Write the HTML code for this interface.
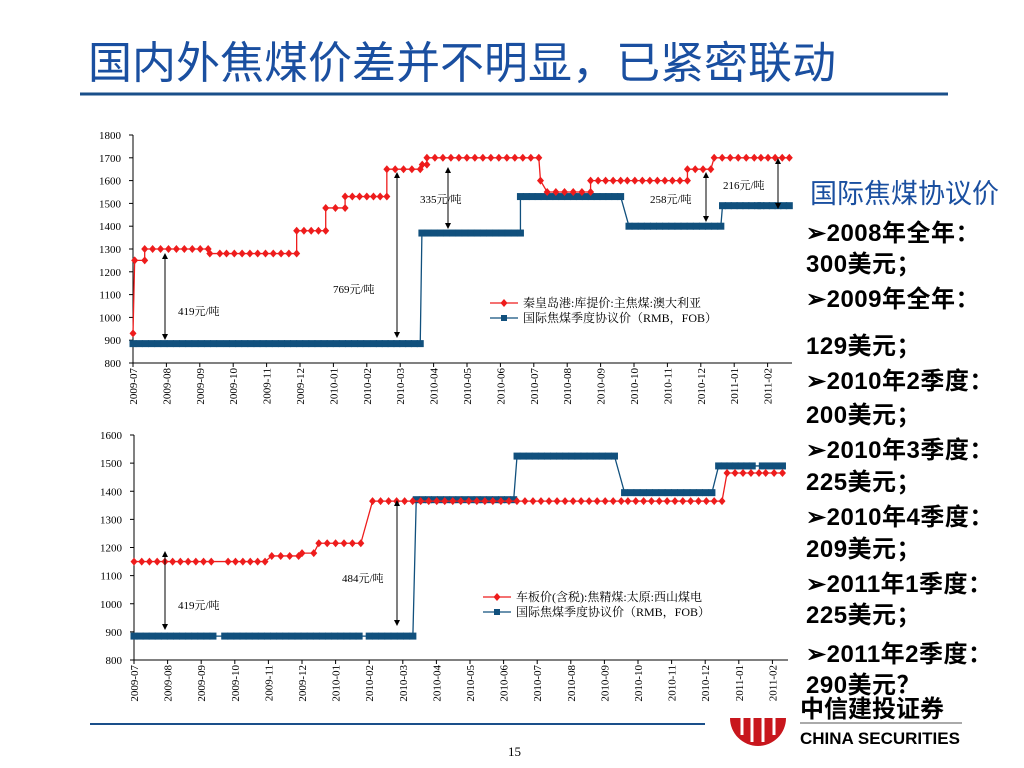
<!DOCTYPE html>
<html><head><meta charset="utf-8">
<style>
body{margin:0;background:#fff;}
svg{display:block;}
.t{font-family:"Liberation Serif","Noto Serif CJK SC",serif;font-size:11px;fill:#000;}
.r{font-family:"Liberation Sans","Noto Sans CJK SC",sans-serif;font-weight:bold;font-size:24px;letter-spacing:0.5px;fill:#000;}
</style></head>
<body>
<svg id="s" width="1024" height="768" xmlns="http://www.w3.org/2000/svg">
<text x="88" y="78" style="font-family:'Liberation Sans','Noto Sans CJK SC',sans-serif;font-size:44px;fill:#1a4fa0">国内外焦煤价差并不明显，已紧密联动</text>
<line x1="80" y1="94" x2="948" y2="94" stroke="#1a4f8a" stroke-width="3"/>
<text x="810" y="203" style="font-family:'Liberation Sans','Noto Sans CJK SC',sans-serif;font-size:27px;fill:#1a4fa0">国际焦煤协议价</text>
<g>
<text class="r" x="806" y="241">➢2008年全年：</text>
<text class="r" x="806" y="272">300美元；</text>
<text class="r" x="806" y="307">➢2009年全年：</text>
<text class="r" x="806" y="354">129美元；</text>
<text class="r" x="806" y="389">➢2010年2季度：</text>
<text class="r" x="806" y="423">200美元；</text>
<text class="r" x="806" y="458">➢2010年3季度：</text>
<text class="r" x="806" y="490">225美元；</text>
<text class="r" x="806" y="525">➢2010年4季度：</text>
<text class="r" x="806" y="557">209美元；</text>
<text class="r" x="806" y="592">➢2011年1季度：</text>
<text class="r" x="806" y="623">225美元；</text>
<text class="r" x="806" y="662">➢2011年2季度：</text>
<text class="r" x="806" y="693">290美元？</text>
</g>
<line x1="90" y1="724" x2="705" y2="724" stroke="#1a4f8a" stroke-width="2"/>
<text x="508" y="756" class="t" style="font-size:13px">15</text>
<g>
<path d="M730,718 A28,28 0 0 0 786,718 Z" fill="#c8161d"/>
<g stroke="#fff" stroke-width="3"><line x1="742" y1="716" x2="742" y2="735"/><line x1="752" y1="716" x2="752" y2="742"/><line x1="763" y1="716" x2="763" y2="742"/><line x1="774" y1="716" x2="774" y2="735"/></g>
<text x="800" y="717" style="font-family:'Liberation Sans','Noto Sans CJK SC',sans-serif;font-weight:bold;font-size:24px;fill:#000">中信建投证券</text>
<line x1="800" y1="723" x2="962" y2="723" stroke="#555" stroke-width="1"/>
<text x="800" y="744" style="font-family:'Liberation Sans',sans-serif;font-weight:bold;font-size:17px;fill:#000">CHINA SECURITIES</text>
</g>
<g id="c1"></g>
<g id="c2"></g>
</svg>
<script>
const months = ["2009-07","2009-08","2009-09","2009-10","2009-11","2009-12","2010-01","2010-02","2010-03","2010-04","2010-05","2010-06","2010-07","2010-08","2010-09","2010-10","2010-11","2010-12","2011-01","2011-02"];
// top chart runs (start month, end month, value)
const topRedStart = [0,0.05,0.35,2.3,2.8,4.9,5.77,6.35,7.2,7.6,8.66,8.8,12.2,12.4,13.7,14.8,16.6,17.4,18.8];
const topRedEnd   = [0,0.35,2.25,2.6,4.9,5.77,6.35,7.0,7.6,8.6,8.8,12.15,12.2,13.7,14.6,16.6,17.3,18.6,19.65];
const topRedVal   = [930,1250,1300,1280,1280,1380,1480,1530,1530,1650,1670,1700,1600,1550,1600,1600,1650,1700,1700];
const topBlueStart = [0,2.8,7.2,8.65,11.6,14.85,17.65,18.8];
const topBlueEnd   = [2.6,7.0,8.6,11.6,14.6,17.6,18.7,19.65];
const topBlueVal   = [885,885,885,1370,1530,1400,1490,1490];
const topTicks = [800,900,1000,1100,1200,1300,1400,1500,1600,1700,1800];
// bottom chart runs
const botRedStart = [0,2.8,4.1,5.0,5.5,7.1,14.7,17.65,18.8];
const botRedEnd   = [2.3,3.9,4.9,5.35,6.75,14.5,17.5,18.6,19.3];
const botRedVal   = [1150,1150,1170,1180,1215,1365,1365,1465,1465];
const botBlueStart = [0,2.7,7.0,8.4,11.4,14.6,17.4,18.7];
const botBlueEnd   = [2.35,6.7,8.3,11.3,14.3,17.2,18.4,19.3];
const botBlueVal   = [885,885,885,1370,1525,1395,1490,1490];
const botTicks = [800,900,1000,1100,1200,1300,1400,1500,1600];

const NS="http://www.w3.org/2000/svg";
function mk(tag,attrs,parent){const e=document.createElementNS(NS,tag);for(const k in attrs)e.setAttribute(k,attrs[k]);parent.appendChild(e);return e;}

function chart(g,cfg){
  const x=m=>cfg.x0+m*cfg.dx;
  const y=v=>cfg.yTop+(cfg.vMax-v)*(cfg.yBot-cfg.yTop)/(cfg.vMax-cfg.vMin);
  const ax=mk('path',{d:`M${cfg.x0},${cfg.yTop}V${cfg.yBot}H${cfg.xEnd}`,stroke:'#000',fill:'none','stroke-width':1},g);
  
  
  cfg.ticks.forEach(v=>{
    mk('line',{x1:cfg.x0-4,x2:cfg.x0,y1:y(v),y2:y(v),stroke:'#000'},g);
    const t=mk('text',{x:cfg.x0-12,y:y(v)+4,'text-anchor':'end',class:'t'},g);t.textContent=v;
    
    
  });
  months.forEach((m,i)=>{
    mk('line',{x1:x(i),x2:x(i),y1:cfg.yBot,y2:cfg.yBot+4,stroke:'#000'},g);
    const t=mk('text',{x:0,y:0,'text-anchor':'end',class:'t',transform:`translate(${x(i)+4},${cfg.yBot+5}) rotate(-90)`},g);t.textContent=m;
    
    
  });
  function series(st,en,va,color,kind,name){
    const sg=mk('g',{},g);
    
    
    let d='';
    st.forEach((s,i)=>{d+=(i?'L':'M')+x(s)+','+y(va[i])+'L'+x(en[i])+','+y(va[i]);});
    mk('path',{d,stroke:color,fill:'none','stroke-width':1.3},sg);
    st.forEach((s,i)=>{
      const n=Math.max(1,Math.round((en[i]-s)/(kind==='d'?0.24:0.18)));
      for(let k=0;k<=n;k++){
        if(en[i]===s&&k>0)break;
        const px=x(s+(en[i]-s)*k/n),py=y(va[i]);
        const mkr = kind==='d'
          ? mk('path',{d:`M${px},${py-4}L${px+3.5},${py}L${px},${py+4}L${px-3.5},${py}Z`,fill:color},sg)
          : mk('rect',{x:px-3.5,y:py-3.5,width:7,height:7,fill:color},sg);
        
        
      }
    });
  }
  series(cfg.bS,cfg.bE,cfg.bV,'#11507d','s','blue-series');
  series(cfg.rS,cfg.rE,cfg.rV,'#ee1c1c','d','red-series');
  const lg=mk('g',{},g);
  
  
  mk('line',{x1:cfg.lx,x2:cfg.lx+28,y1:cfg.ly,y2:cfg.ly,stroke:'#ee1c1c','stroke-width':1.3},lg);
  mk('path',{d:`M${cfg.lx+14},${cfg.ly-4}l3.5,4l-3.5,4l-3.5,-4z`,fill:'#ee1c1c'},lg);
  mk('line',{x1:cfg.lx,x2:cfg.lx+28,y1:cfg.ly+15,y2:cfg.ly+15,stroke:'#11507d','stroke-width':1.3},lg);
  mk('rect',{x:cfg.lx+11,y:cfg.ly+12,width:6,height:6,fill:'#11507d'},lg);
  let t=mk('text',{x:cfg.lx+33,y:cfg.ly+4,class:'t',style:'font-size:12px'},lg);t.textContent=cfg.l1;
  t=mk('text',{x:cfg.lx+33,y:cfg.ly+19,class:'t',style:'font-size:12px'},lg);t.textContent='国际焦煤季度协议价（RMB，FOB）';
  cfg.ann.forEach(a=>{
    const ag=mk('g',{},g);
    
    
    mk('line',{x1:a[0],x2:a[0],y1:a[1]+4,y2:a[2]-4,stroke:'#000'},ag);
    mk('path',{d:`M${a[0]},${a[1]}l-3,6h6z M${a[0]},${a[2]}l-3,-6h6z`,fill:'#000'},ag);
    const tt=mk('text',{x:a[3],y:a[4],class:'t'},ag);tt.textContent=a[5];
  });
}
chart(document.getElementById('c1'),{x0:133,dx:33.4,xEnd:792,yTop:135,yBot:363,vMin:800,vMax:1800,ticks:topTicks,
  rS:topRedStart,rE:topRedEnd,rV:topRedVal,bS:topBlueStart,bE:topBlueEnd,bV:topBlueVal,
  lx:490,ly:303,l1:'秦皇岛港:库提价:主焦煤:澳大利亚',
  ann:[[165,253,340,178,315,'419元/吨'],[397,172,338,333,293,'769元/吨'],[448,167,229,420,203,'335元/吨'],[706,172,222,650,203,'258元/吨'],[778,158,209,723,189,'216元/吨']]});
chart(document.getElementById('c2'),{x0:134,dx:33.6,xEnd:788,yTop:435,yBot:660,vMin:800,vMax:1600,ticks:botTicks,
  rS:botRedStart,rE:botRedEnd,rV:botRedVal,bS:botBlueStart,bE:botBlueEnd,bV:botBlueVal,
  lx:483,ly:597,l1:'车板价(含税):焦精煤:太原:西山煤电',
  ann:[[165,551,630,178,609,'419元/吨'],[397,500,626,342,582,'484元/吨']]});
</script>
</body></html>
